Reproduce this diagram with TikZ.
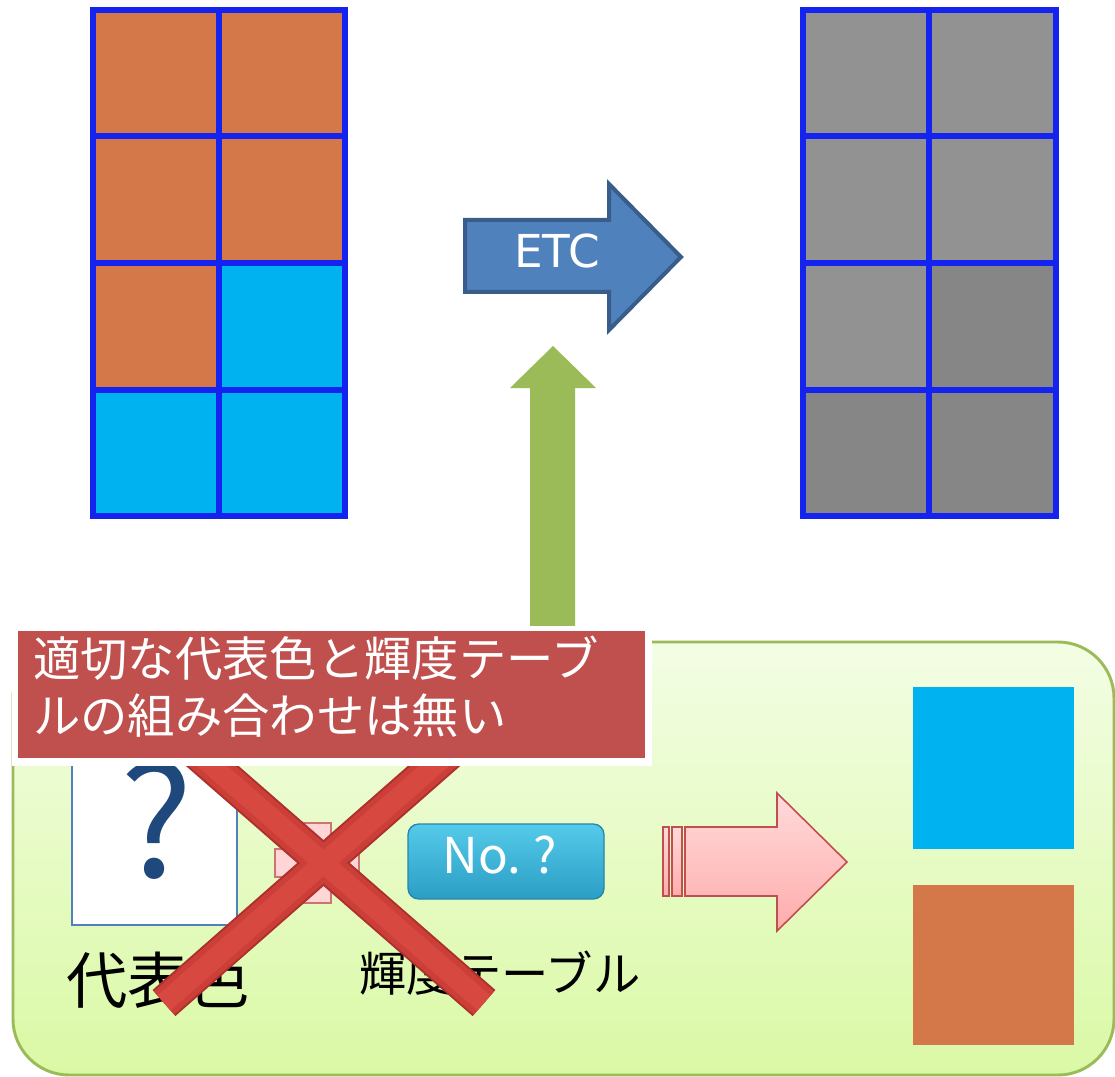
\documentclass[tikz,border=0pt]{standalone}
\usepackage{fontspec}
\setmainfont{Noto Sans CJK JP}
\newfontfamily\latinfont{DejaVu Sans}
\definecolor{orangec}{RGB}{212,120,74}
\definecolor{cyanc}{RGB}{0,178,240}
\definecolor{gridblue}{RGB}{20,35,240}
\definecolor{grayl}{RGB}{146,146,146}
\definecolor{grayd}{RGB}{134,134,134}
\definecolor{etcfill}{RGB}{79,129,189}
\definecolor{etcdraw}{RGB}{56,93,138}
\definecolor{greenc}{RGB}{155,187,89}
\definecolor{boxtop}{RGB}{243,253,228}
\definecolor{boxbot}{RGB}{218,249,165}
\definecolor{qblue}{RGB}{31,73,125}
\definecolor{qborder}{RGB}{79,129,189}
\definecolor{labelred}{RGB}{192,80,77}
\definecolor{pinktop}{RGB}{255,218,218}
\definecolor{pinkbot}{RGB}{255,172,172}
\definecolor{pinkdraw}{RGB}{192,80,77}
\definecolor{btntop}{RGB}{85,202,234}
\definecolor{btnbot}{RGB}{42,158,196}
\definecolor{btndraw}{RGB}{38,135,168}
\definecolor{xdark}{RGB}{172,48,44}
\definecolor{xmid}{RGB}{204,62,56}
\definecolor{xlight}{RGB}{214,72,64}
\tikzset{
  gridline/.style={draw=gridblue, line width=4.5pt},
  etcarrow/.style={draw=etcdraw, fill=etcfill, line width=3pt, line join=miter},
  upgreen/.style={fill=greenc},
  pinkarrow/.style={draw=pinkdraw, top color=pinktop, bottom color=pinkbot, line width=1.2pt},
  plusshape/.style={draw=pinkdraw!80, fill=pinktop!90!pinkbot, line width=1pt},
  xbar/.style={draw=xdark, line cap=butt, line width=26pt,
    postaction={draw=xmid, line cap=butt, line width=23pt},
    postaction={draw=xlight, line cap=butt, line width=15pt}},
  whitetxt/.style={text=white, inner sep=0pt},
  blacktxt/.style={text=black, inner sep=0pt}
}
\begin{document}
\begin{tikzpicture}[x=0.75pt,y=-0.75pt]
\useasboundingbox (0,0) rectangle (1115,1077);
\fill[white] (0,0) rectangle (1115,1077);

% left grid
\foreach \c/\r/\col in {0/0/orangec,1/0/orangec,0/1/orangec,1/1/orangec,0/2/orangec,1/2/cyanc,0/3/cyanc,1/3/cyanc}
  \fill[\col] ({93+126*\c},{10+126.5*\r}) rectangle ++(126,126.5);
\draw[gridline] (93,10) rectangle (345,516);
\draw[gridline] (219,10) -- (219,516);
\foreach \y in {136.5,263,389.5} \draw[gridline] (93,\y) -- (345,\y);

% right grid
\foreach \c/\r/\col in {0/0/grayl,1/0/grayl,0/1/grayl,1/1/grayl,0/2/grayl,1/2/grayd,0/3/grayd,1/3/grayd}
  \fill[\col] ({803+126.5*\c},{10+126.5*\r}) rectangle ++(126.5,126.5);
\draw[gridline] (803,10) rectangle (1056,516);
\draw[gridline] (929,10) -- (929,516);
\foreach \y in {136.5,263,389.5} \draw[gridline] (803,\y) -- (1056,\y);

% ETC arrow
\draw[etcarrow] (465,220) -- (609,220) -- (609,184) -- (681,257) -- (609,330) -- (609,292) -- (465,292) -- cycle;
\node[whitetxt, anchor=base, font=\latinfont\fontsize{34pt}{40pt}\selectfont] (etc) at (557,268) {ETC};

% green up arrow
\fill[upgreen] (530,660) -- (530,388) -- (510,388) -- (553,346) -- (596,388) -- (575,388) -- (575,660) -- cycle;

% green box
\draw[draw=greenc, line width=2.2pt, top color=boxtop, bottom color=boxbot, rounded corners=42pt] (13,642) rectangle (1114,1075);

% question box
\draw[draw=qborder, line width=2.2pt, fill=white] (72,730) rectangle (237,925);
\node[anchor=base, inner sep=0pt, text=qblue, font=\fontsize{115pt}{120pt}\selectfont] (q) at (157,877) {?};
\node[blacktxt, anchor=base, font=\fontsize{46pt}{52pt}\selectfont] (daihyo) at (158,1003) {代表色};

% plus sign
\draw[plusshape] (303,823) -- (331,823) -- (331,849) -- (359,849) -- (359,877) -- (331,877) -- (331,903) -- (303,903) -- (303,877) -- (275,877) -- (275,849) -- (303,849) -- cycle;

% No. button
\draw[draw=btndraw, line width=1pt, top color=btntop, bottom color=btnbot, rounded corners=8pt] (408,824) rectangle (604,899);
\node[whitetxt, anchor=base, font=\fontsize{37pt}{42pt}\selectfont] (no) at (500,873) {No.\hspace{0.25em}?};
\node[blacktxt, anchor=base, font=\fontsize{35.5pt}{40pt}\selectfont] (kido) at (500,991) {輝度テーブル};

% pink arrow
\draw[pinkarrow] (663,827) rectangle (669,896);
\draw[pinkarrow] (672,827) rectangle (682,896);
\draw[pinkarrow] (685,827) -- (777,827) -- (777,793) -- (847,862) -- (777,931) -- (777,896) -- (685,896) -- cycle;

% result squares
\fill[cyanc] (913,687) rectangle (1074,849);
\fill[orangec] (913,885) rectangle (1074,1045);

% red cross (both bars in one path so they merge)
\coordinate (xc) at (323,863);
\draw[xbar] (163,723) -- (484,1003) (483,723) -- (164,1003);

% label
\fill[white] (12,626) rectangle (652,766);
\fill[labelred] (18,631) rectangle (645,758);
\node[whitetxt, anchor=base west, font=\fontsize{35.5pt}{43pt}\selectfont] (l1) at (33,676) {適切な代表色と輝度テーブ};
\node[whitetxt, anchor=base west, font=\fontsize{35.5pt}{43pt}\selectfont] (l2) at (33,733) {ルの組み合わせは無い};
\end{tikzpicture}
\end{document}
